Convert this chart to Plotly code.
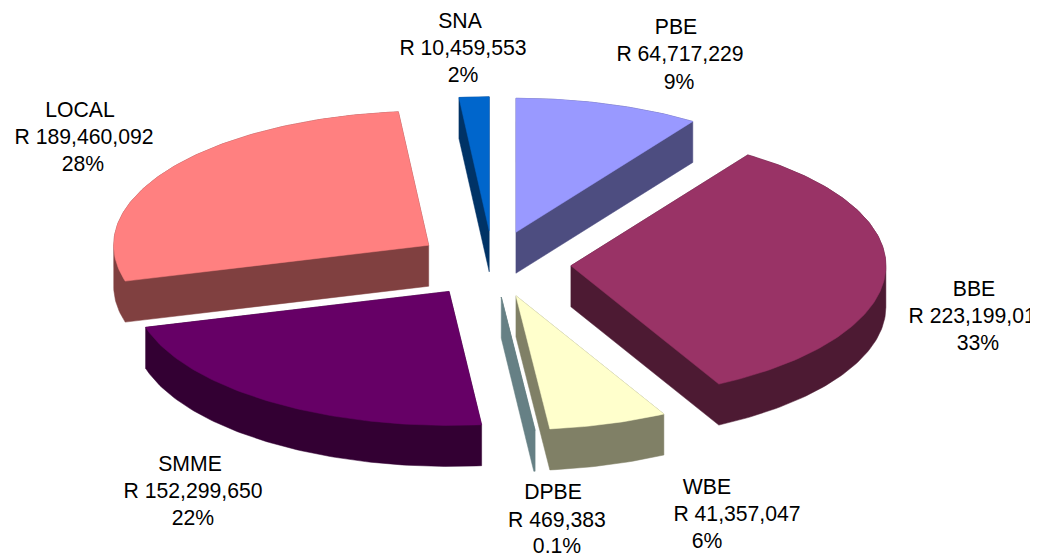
import numpy as np
import plotly.graph_objects as go

# Data
categories = ["PBE", "BBE", "WBE", "DPBE", "SMME", "LOCAL", "SNA"]
values = [64717229, 223199010, 41357047, 469383, 152299650, 189460092, 10459553]
amount_labels = ["R 64,717,229", "R 223,199,010", "R 41,357,047", "R 469,383",
                 "R 152,299,650", "R 189,460,092", "R 10,459,553"]
percent_labels = ["9%", "33%", "6%", "0.1%", "22%", "28%", "2%"]

# Styles
top_colors = ["#9999FF", "#993366", "#FFFFCC", "#668085", "#660066", "#FF8080", "#0066CC"]
side_colors = ["#4D4D80", "#4D1A33", "#808066", "#668085", "#330033", "#804040", "#003366"]

# Pie geometry in pixels of the page
CX, CY = 493, 264
RX, RY = 315, 134
EXPLODE = 78
DEPTH = 41
SQUASH = RY / RX

# Centre x of line 1, 2, 3 and y of line 1, 2, 3 for each label
label_pos = {
    "PBE": ((676, 680, 679), (29, 56, 84)),
    "BBE": ((974, 978, 978), (291, 318, 345)),
    "WBE": ((707, 737, 707), (489, 516, 543)),
    "DPBE": ((553, 557, 557), (494, 522, 548)),
    "SMME": ((190, 193, 193), (466, 493, 520)),
    "LOCAL": ((80, 84, 83), (112, 139, 166)),
    "SNA": ((460, 463, 463), (23, 50, 77)),
}
draw_order = ["PBE", "SNA", "LOCAL", "BBE", "SMME", "WBE", "DPBE"]


def hull(points):
    pts = sorted(set(points))
    def half(seq):
        out = []
        for p in seq:
            while len(out) > 1 and ((out[-1][0] - out[-2][0]) * (p[1] - out[-2][1])
                                    - (out[-1][1] - out[-2][1]) * (p[0] - out[-2][0])) <= 0:
                out.pop()
            out.append(p)
        return out[:-1]
    return half(pts) + half(pts[::-1])


total = sum(values)
edges = np.concatenate([[0], np.cumsum(values)]) / total * 2 * np.pi
wedges = {}
for i, name in enumerate(categories):
    a0, a1 = edges[i], edges[i + 1]
    mid = (a0 + a1) / 2
    ax = CX + EXPLODE * np.sin(mid)
    ay = CY - EXPLODE * SQUASH * np.cos(mid)
    th = np.linspace(a0, a1, max(3, int((a1 - a0) * 60)))
    xs = [ax] + list(ax + RX * np.sin(th))
    ys = [ay] + list(ay - RY * np.cos(th))
    wedges[name] = (i, xs, ys)

fig = go.Figure()
for name in draw_order:
    i, xs, ys = wedges[name]
    outline = [(float(x), float(y)) for x, y in zip(xs, ys)]
    shell = hull(outline + [(x, y + DEPTH) for x, y in outline])
    sx = [p[0] for p in shell] + [shell[0][0]]
    sy = [p[1] for p in shell] + [shell[0][1]]
    fig.add_trace(go.Scatter(x=sx, y=sy, mode="lines", fill="toself",
                             fillcolor=side_colors[i],
                             line=dict(color=side_colors[i], width=0.5),
                             hoverinfo="skip", showlegend=False))
    fig.add_trace(go.Scatter(x=xs + [xs[0]], y=ys + [ys[0]], mode="lines", fill="toself",
                             fillcolor=top_colors[i],
                             line=dict(color=top_colors[i], width=0.5),
                             name=name, hoverinfo="skip", showlegend=False))

tx, ty, tt = [], [], []
for i, name in enumerate(categories):
    px, py = label_pos[name]
    for x, y, t in zip(px, py, (name, amount_labels[i], percent_labels[i])):
        tx.append(x)
        ty.append(y)
        tt.append(t)
fig.add_trace(go.Scatter(x=tx, y=ty, text=tt, mode="text", textposition="middle center",
                         textfont=dict(family="Liberation Sans", size=21.2, color="#000000"),
                         cliponaxis=True, hoverinfo="skip", showlegend=False))

fig.update_layout(
    width=1045, height=559, autosize=False,
    margin=dict(l=0, r=15, t=0, b=0, pad=0),
    paper_bgcolor="#FFFFFF", plot_bgcolor="#FFFFFF",
    xaxis=dict(range=[0, 1030], visible=False, fixedrange=True),
    yaxis=dict(range=[559, 0], visible=False, fixedrange=True),
)
fig.write_html("out.html", config={"displayModeBar": False},
               post_script="document.body.style.margin='0';document.body.style.overflow='hidden';")
